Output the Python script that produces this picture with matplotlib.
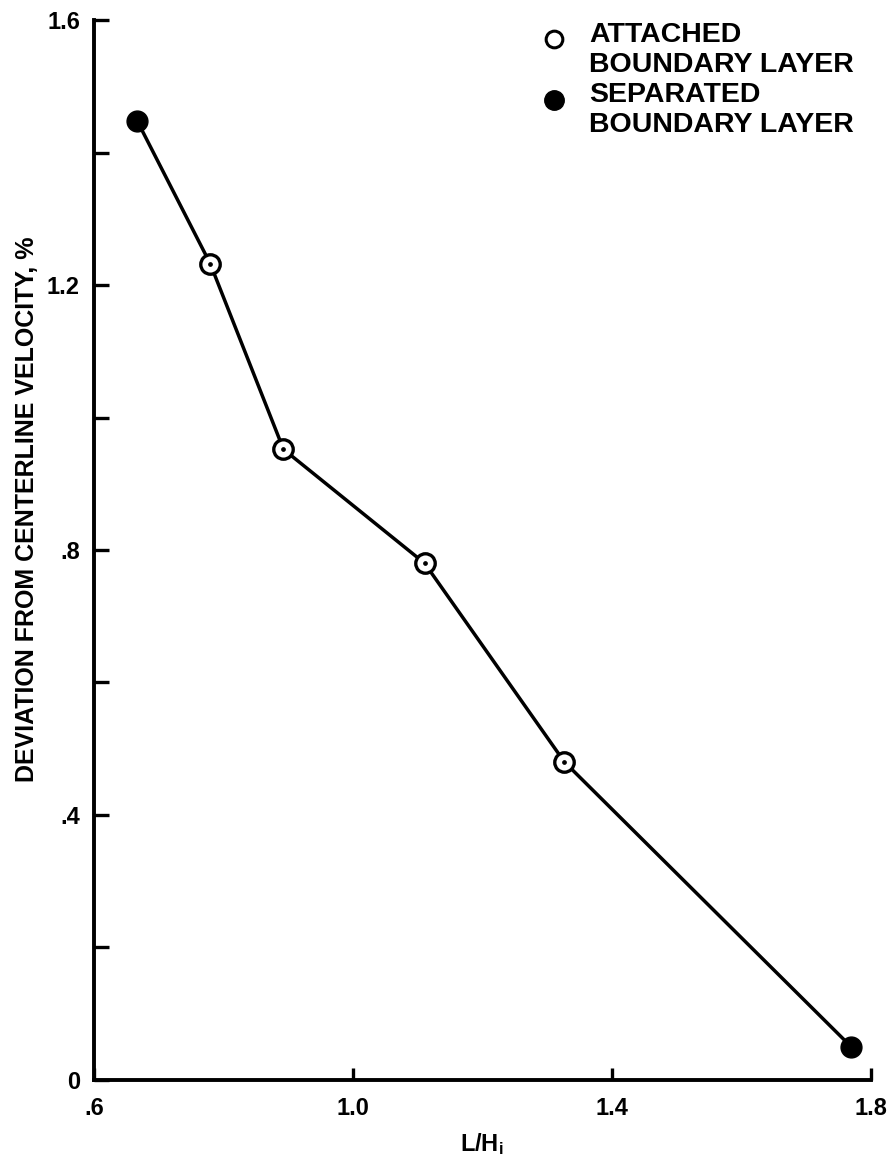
import matplotlib
matplotlib.use("Agg")
import matplotlib.pyplot as plt

# Data
lh = [0.667, 0.780, 0.893, 1.111, 1.327, 1.770]
deviation = [1.448, 1.232, 0.952, 0.780, 0.480, 0.050]
separated = [True, False, False, False, False, True]

x_ticks = [0.6, 1.0, 1.4, 1.8]
x_tick_labels = [".6", "1.0", "1.4", "1.8"]
y_ticks = [0.0, 0.4, 0.8, 1.2, 1.6]
y_tick_labels = ["0", ".4", ".8", "1.2", "1.6"]
y_minor = [0.2, 0.6, 1.0, 1.4]

plt.rcParams["font.family"] = ["Liberation Sans", "DejaVu Sans"]
plt.rcParams["font.weight"] = "bold"
plt.rcParams["mathtext.fontset"] = "custom"
plt.rcParams["mathtext.rm"] = "Liberation Sans:bold"
plt.rcParams["mathtext.it"] = "Liberation Sans:bold"

fig = plt.figure(figsize=(8.93, 11.66), dpi=100)
ax = fig.add_axes([0.105, 0.0738, 0.87, 0.909])

# connecting line
ax.plot(lh, deviation, color="black", lw=2.5, zorder=2)

# markers: open with centre dot for attached, filled for separated
for x, y, sep in zip(lh, deviation, separated):
    if sep:
        ax.plot(x, y, "o", ms=15, mfc="black", mec="black", zorder=3, clip_on=False)
    else:
        ax.plot(x, y, "o", ms=14, mfc="white", mec="black", mew=2.4, zorder=3)
        ax.plot(x, y, "o", ms=2.4, color="black", zorder=4)

ax.set_xlim(0.6, 1.8)
ax.set_ylim(0, 1.6)

for side in ["top", "right"]:
    ax.spines[side].set_visible(False)
for side in ["left", "bottom"]:
    ax.spines[side].set_linewidth(2.8)

ax.set_xticks(x_ticks)
ax.set_xticklabels(x_tick_labels)
ax.set_yticks(y_ticks)
ax.set_yticklabels(y_tick_labels)
ax.set_yticks(y_minor, minor=True)
ax.tick_params(axis="both", which="both", direction="in", width=2.4, labelsize=17)
ax.tick_params(axis="y", which="both", length=11, pad=10)
ax.tick_params(axis="x", which="major", length=9, pad=12)
for lbl in ax.get_xticklabels() + ax.get_yticklabels():
    lbl.set_fontweight("bold")

ax.set_xlabel(r"L/H$_\mathrm{i}$", fontsize=17, fontweight="bold", labelpad=8)
fig.text(0.030, 0.563, "DEVIATION FROM CENTERLINE VELOCITY, %", rotation=90,
         ha="center", va="center", fontsize=18, fontweight="bold")

# legend drawn by hand so the marker sits on the first line of each label
leg = [("ATTACHED\nBOUNDARY LAYER", False, 0.982, 0.998),
       ("SEPARATED\nBOUNDARY LAYER", True, 0.925, 0.942)]
for text, sep, my, ty in leg:
    if sep:
        ax.plot(0.592, my, "o", ms=14, mfc="black", mec="black",
                transform=ax.transAxes, clip_on=False)
    else:
        ax.plot(0.592, my, "o", ms=12, mfc="white", mec="black", mew=2.2,
                transform=ax.transAxes, clip_on=False)
    ax.text(0.638, ty, text, transform=ax.transAxes, ha="left", va="top",
            fontsize=20.5, fontweight="bold", linespacing=1.2)

fig.savefig("out.png", dpi=100)
